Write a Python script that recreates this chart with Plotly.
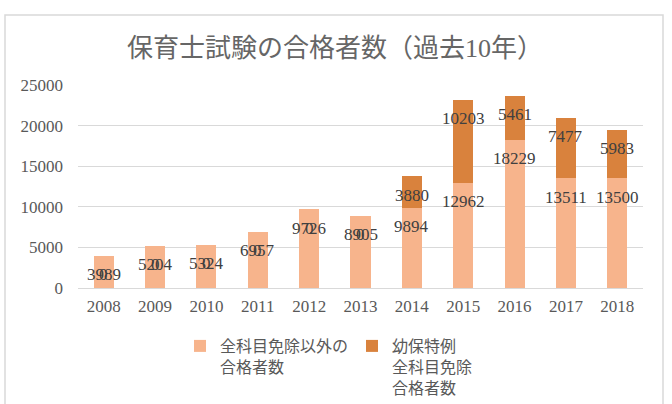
import plotly.graph_objects as go

years = ["2008", "2009", "2010", "2011", "2012", "2013", "2014", "2015", "2016", "2017", "2018"]
regular = [3989, 5204, 5324, 6957, 9726, 8905, 9894, 12962, 18229, 13511, 13500]
special = [0, 0, 0, 0, 0, 0, 3880, 10203, 5461, 7477, 5983]
series_names = ["全科目免除以外の<br>合格者数", "幼保特例<br>全科目免除<br>合格者数"]
colors = ["#F7B48C", "#D9823D"]
title_text = "保育士試験の合格者数（過去10年）"
y_ticks = [0, 5000, 10000, 15000, 20000, 25000]
y_tick_text = ["0", "5000", "10000", "15000", "20000", "25000"]

W, H = 672, 404
ML, MR, MT, MB = 78, 29, 85, 116
pw, ph = W - ML - MR, H - MT - MB

serif = "Liberation Serif, Noto Sans CJK JP, serif"
sans = "Noto Sans CJK JP, sans-serif"

fig = go.Figure()
for name, vals, col in zip(series_names, [regular, special], colors):
    fig.add_trace(go.Bar(x=years, y=vals, name=name, marker=dict(color=col, line=dict(width=0)),
                         textposition="none", hoverinfo="x+y"))

# data labels near the top of each stacked segment (Excel-like, including the overlapping zeros)
cum = [0] * len(years)
for vals in [regular, special]:
    for i, v in enumerate(vals):
        cum[i] += v
        fig.add_annotation(x=i, y=cum[i], text=str(v), showarrow=False, yshift=-19,
                           font=dict(family=serif, size=17, color="#404040"))

# outer chart border
fig.add_shape(type="rect", xref="paper", yref="paper",
              x0=(5 - ML) / pw, x1=(663 - ML) / pw, y0=(ph + MT - 406) / ph, y1=(ph + MT - 15) / ph,
              line=dict(color="#D9D9D9", width=1.5), fillcolor="rgba(0,0,0,0)", layer="below")

fig.update_layout(
    width=W, height=H,
    margin=dict(l=ML, r=MR, t=MT, b=MB, autoexpand=False),
    paper_bgcolor="white", plot_bgcolor="white",
    barmode="stack", bargap=0.61,
    title=dict(text=title_text, x=(335 - ML) / pw, xref="paper", xanchor="center",
               y=1 - 48 / H, yanchor="middle",
               font=dict(family=serif, size=26, color="#666666")),
    xaxis=dict(type="category", range=[-0.5, len(years) - 0.5], showgrid=False, showline=False, ticks="",
               tickfont=dict(family=serif, size=17, color="#595959"), ticklabelstandoff=6),
    yaxis=dict(range=[0, 25000], tickvals=y_ticks, ticktext=y_tick_text, showgrid=True,
               gridcolor="#D9D9D9", gridwidth=1.3,
               zeroline=True, zerolinecolor="#D9D9D9", zerolinewidth=1.3, showline=False, ticks="",
               tickfont=dict(family=serif, size=17, color="#595959"), ticklabelstandoff=14),
    legend=dict(orientation="h", x=(180 - ML) / pw, xanchor="left", y=(ph + MT - 329) / ph, yanchor="top",
                valign="top", font=dict(family=sans, size=16, color="#595959"),
                entrywidth=127, entrywidthmode="pixels", traceorder="normal", bgcolor="rgba(0,0,0,0)"),
    showlegend=True,
)

fig.write_html("out.html", post_script="document.body.style.margin='0';",
               config={"displayModeBar": False})
